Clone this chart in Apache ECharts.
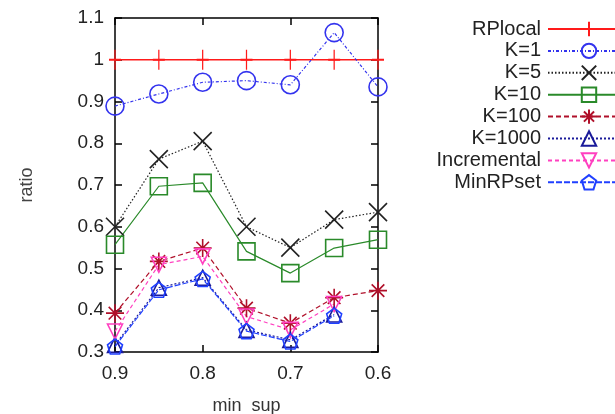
<!DOCTYPE html>
<html>
<head>
<meta charset="utf-8">
<script src="https://cdn.jsdelivr.net/npm/echarts@6/dist/echarts.min.js"></script>
<style>
html,body{margin:0;padding:0;background:#fff;}
#chart{width:615px;height:414px;}
</style>
</head>
<body>
<div id="chart"></div>
<script>
const minSup = [0.9, 0.85, 0.8, 0.75, 0.7, 0.65, 0.6];
const rplocal = [1, 1, 1, 1, 1, 1, 1];
const k1 = [0.889, 0.918, 0.946, 0.95, 0.94, 1.065, 0.935];
const k5 = [0.60, 0.762, 0.805, 0.60, 0.55, 0.617, 0.635];
const k10 = [0.557, 0.697, 0.705, 0.541, 0.489, 0.549, 0.569];
const k100 = [0.393, 0.517, 0.549, 0.405, 0.369, 0.43, 0.447];
const k1000 = [0.317, 0.454, 0.478, 0.353, 0.329, 0.39, null];
const incremental = [0.349, 0.509, 0.529, 0.385, 0.353, 0.415, null];
const minRPset = [0.313, 0.449, 0.475, 0.35, 0.325, 0.387, null];
const xTicks = [0.6, 0.7, 0.8, 0.9];
const yTicks = [0.3, 0.4, 0.5, 0.6, 0.7, 0.8, 0.9, 1, 1.1];

const pts = arr => minSup.map((x, i) => [x, arr[i]]);
const fmt = v => String(Math.round(v * 10) / 10);

const SYM = {
  plus: 'path://M5,0L5,10M0,5L10,5',
  cross: 'path://M0,0L10,10M10,0L0,10',
  star: 'path://M5,0L5,10M0,5L10,5M1.5,1.5L8.5,8.5M8.5,1.5L1.5,8.5',
  invTri: 'path://M0,0L10,0L5,9Z',
  pent: 'path://M5,0L10,3.8L8.1,10L1.9,10L0,3.8Z'
};

function mk(name, data, color, dash, symbol, size, width) {
  return {
    name: name, type: 'line', data: pts(data),
    symbol: symbol, symbolSize: size, connectNulls: false,
    lineStyle: { color: color, width: width || 1.2, type: dash },
    itemStyle: { color: 'transparent', borderColor: color, borderWidth: 1.6 },
    emphasis: { disabled: true },
    animation: false
  };
}

const series = [
  mk('RPlocal', rplocal, '#ff1a1a', 'solid', SYM.plus, [12, 20], 1.6),
  mk('K=1', k1, '#3333ee', [3, 2, 1, 2], 'circle', 18),
  mk('K=5', k5, '#222222', [1.5, 2], SYM.cross, 18),
  mk('K=10', k10, '#2a8a2a', 'solid', 'rect', 17),
  mk('K=100', k100, '#b0102a', [5, 3], SYM.star, 18),
  mk('K=1000', k1000, '#1a1a9a', [2, 2], 'triangle', 15),
  mk('Incremental', incremental, '#ff40c0', [4, 3], SYM.invTri, 15),
  mk('MinRPset', minRPset, '#2040ff', [6, 2], SYM.pent, 15)
];

const FONT = 'Liberation Sans, Arial, sans-serif';
const labelStyle = { color: '#222', fontSize: 19, fontFamily: FONT };
const axisLine = { show: true, lineStyle: { color: '#000', width: 1.5 } };
const axisTick = { show: true, inside: true, length: 7, lineStyle: { color: '#000', width: 1.5 } };

const chart = echarts.init(document.getElementById('chart'), null, { renderer: 'canvas' });
chart.setOption({
  animation: false,
  backgroundColor: '#fff',
  grid: { left: 115, right: 237, top: 18, bottom: 62, containLabel: false, outerBoundsMode: 'none' },
  xAxis: [
    {
      type: 'value', inverse: true, min: 0.6, max: 0.9, interval: 0.1,
      position: 'bottom',
      axisLine: axisLine, axisTick: axisTick,
      axisLabel: Object.assign({ margin: 12, formatter: v => xTicks.some(t => Math.abs(t - v) < 1e-6) ? fmt(v) : '' }, labelStyle),
      splitLine: { show: false },
      name: 'min  sup', nameLocation: 'middle', nameGap: 45,
      nameTextStyle: { color: '#333', fontSize: 18, fontFamily: FONT }
    },
    {
      type: 'value', inverse: true, min: 0.6, max: 0.9, interval: 0.1,
      position: 'top',
      axisLine: axisLine, axisTick: axisTick,
      axisLabel: { show: false }, splitLine: { show: false }
    }
  ],
  yAxis: [
    {
      type: 'value', min: 0.3, max: 1.1, interval: 0.1, position: 'left',
      axisLine: axisLine, axisTick: axisTick,
      axisLabel: Object.assign({ margin: 11, formatter: v => yTicks.some(t => Math.abs(t - v) < 1e-6) ? fmt(v) : '' }, labelStyle),
      splitLine: { show: false },
      name: 'ratio', nameLocation: 'middle', nameGap: 79, nameRotate: 90,
      nameTextStyle: { color: '#444', fontSize: 18, fontFamily: FONT }
    },
    {
      type: 'value', min: 0.3, max: 1.1, interval: 0.1, position: 'right',
      axisLine: axisLine, axisTick: axisTick,
      axisLabel: { show: false }, splitLine: { show: false }
    }
  ],
  legend: {
    orient: 'vertical', align: 'right', right: -16, top: 19,
    itemWidth: 82, itemHeight: 18, itemGap: 1.9, padding: 0,
    selectedMode: false,
    textStyle: { color: '#222', fontSize: 20, fontFamily: FONT, padding: [0, 2, 0, 0] },
    data: series.map(s => s.name)
  },
  series: series
});
</script>
</body>
</html>
